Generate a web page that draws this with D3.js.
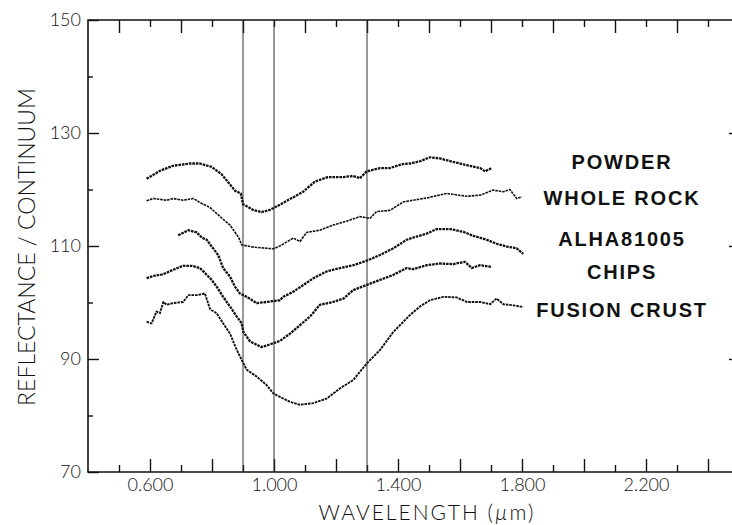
<!DOCTYPE html>
<html>
<head>
<meta charset="utf-8">
<script src="https://cdn.jsdelivr.net/npm/d3@7"></script>
<style>
  html, body { margin: 0; padding: 0; background: #fff; }
  svg { display: block; }
  .tick text { font-family: Lato, "Liberation Sans", sans-serif; font-weight: 300; fill: #111; }
</style>
</head>
<body>
<svg id="chart" width="732" height="525"></svg>
<script>
// spectra (wavelength um, reflectance / continuum)
const powderX = [0.589, 0.632, 0.674, 0.729, 0.761, 0.799, 0.831, 0.852, 0.874, 0.893, 0.900, 0.932, 0.960, 0.987, 1.019, 1.061, 1.094, 1.132, 1.174, 1.223, 1.255, 1.277, 1.299, 1.342, 1.374, 1.416, 1.439, 1.471, 1.503, 1.535, 1.577, 1.622, 1.665, 1.681, 1.702];
const powderY = [121.9, 123.3, 124.2, 124.6, 124.6, 124.0, 122.7, 121.3, 119.8, 119.3, 117.4, 116.4, 116.0, 116.4, 117.3, 118.6, 119.6, 121.4, 122.2, 122.2, 122.4, 122.0, 123.2, 123.8, 123.8, 124.5, 124.6, 125.0, 125.7, 125.5, 124.9, 124.3, 123.8, 123.2, 123.8];

const wholeX = [0.589, 0.611, 0.654, 0.675, 0.707, 0.740, 0.761, 0.794, 0.826, 0.858, 0.885, 0.896, 0.933, 0.976, 0.998, 1.019, 1.062, 1.084, 1.105, 1.148, 1.191, 1.234, 1.277, 1.310, 1.331, 1.374, 1.417, 1.449, 1.493, 1.557, 1.621, 1.665, 1.707, 1.740, 1.761, 1.783, 1.799];
const wholeY = [118.0, 118.4, 118.1, 118.4, 118.1, 118.4, 117.7, 116.8, 115.2, 113.7, 111.6, 110.2, 109.8, 109.6, 109.5, 110.0, 111.4, 110.8, 112.4, 112.8, 113.7, 114.4, 115.2, 114.9, 116.1, 116.3, 117.8, 118.1, 118.5, 119.3, 118.8, 119.0, 119.9, 119.6, 120.0, 118.4, 118.7];

const alhaX = [0.691, 0.724, 0.751, 0.767, 0.783, 0.799, 0.820, 0.836, 0.858, 0.874, 0.890, 0.912, 0.944, 0.976, 1.019, 1.030, 1.062, 1.095, 1.127, 1.170, 1.213, 1.256, 1.299, 1.342, 1.385, 1.428, 1.449, 1.493, 1.525, 1.568, 1.611, 1.643, 1.686, 1.718, 1.751, 1.783, 1.804];
const alhaY = [111.9, 112.8, 112.4, 111.5, 111.1, 109.9, 108.4, 106.1, 104.6, 102.8, 101.6, 101.0, 99.9, 100.1, 100.4, 101.0, 101.9, 103.1, 104.3, 105.5, 106.1, 106.6, 107.4, 108.4, 109.6, 111.1, 111.5, 112.2, 113.0, 113.0, 112.5, 111.8, 111.1, 110.4, 109.9, 109.6, 108.6];

const chipsX = [0.589, 0.611, 0.643, 0.675, 0.707, 0.735, 0.761, 0.783, 0.799, 0.815, 0.836, 0.858, 0.880, 0.896, 0.901, 0.923, 0.960, 0.993, 1.019, 1.052, 1.084, 1.116, 1.148, 1.191, 1.224, 1.256, 1.299, 1.342, 1.385, 1.428, 1.449, 1.493, 1.535, 1.578, 1.616, 1.638, 1.665, 1.702];
const chipsY = [104.3, 104.7, 105.0, 105.8, 106.5, 106.5, 106.1, 104.9, 104.0, 102.8, 101.0, 99.3, 97.5, 96.3, 94.8, 93.1, 92.1, 92.7, 93.2, 94.5, 96.0, 97.5, 99.6, 100.1, 100.7, 102.2, 103.1, 104.0, 104.9, 106.1, 105.9, 106.6, 106.9, 106.8, 107.2, 106.1, 106.6, 106.3];

const crustX = [0.589, 0.605, 0.621, 0.632, 0.643, 0.654, 0.675, 0.707, 0.724, 0.751, 0.777, 0.794, 0.815, 0.836, 0.858, 0.880, 0.896, 0.912, 0.944, 0.976, 0.998, 1.019, 1.052, 1.084, 1.127, 1.170, 1.213, 1.256, 1.299, 1.342, 1.385, 1.428, 1.439, 1.471, 1.503, 1.546, 1.589, 1.622, 1.665, 1.697, 1.718, 1.740, 1.772, 1.804];
const crustY = [96.6, 96.3, 98.4, 98.1, 100.1, 99.6, 99.9, 100.1, 101.3, 101.3, 101.6, 98.8, 98.1, 96.3, 94.5, 91.6, 89.8, 88.1, 86.9, 85.4, 83.9, 83.3, 82.4, 81.9, 82.2, 83.0, 84.8, 86.3, 89.2, 91.6, 94.8, 97.2, 97.8, 99.3, 100.4, 101.0, 100.9, 100.1, 100.1, 99.7, 100.7, 99.7, 99.5, 99.2];

const seriesNames = ["POWDER", "WHOLE ROCK", "ALHA81005", "CHIPS", "FUSION CRUST"];
const labelLevels = [124.9, 118.5, 111.2, 105.4, 98.7];

// band marker lines and ticks
const bandLines = [0.9, 1.0, 1.3];
const xLabelTicks = [0.6, 1.0, 1.4, 1.8, 2.2];
const xEvenTicks = [0.6, 0.8, 1.0, 1.2, 1.4, 1.6, 1.8, 2.0, 2.2, 2.4];
const xOddTicks = [0.5, 0.7, 0.9, 1.1, 1.3, 1.5, 1.7, 1.9, 2.1, 2.3];
const yLabelTicks = [70, 90, 110, 130, 150];
const yMinorTicks = [80, 100, 120, 140];

const svg = d3.select("#chart");

const x = d3.scaleLinear().domain([0.4, 2.5]).range([88, 739]);
const y = d3.scaleLinear().domain([70, 150]).range([472, 20]);

const [x0, x1] = x.range();
const [yb, yt] = y.range();

function axisLayer(axis, tx, ty) {
    const g = svg.append("g")
        .attr("transform", `translate(${tx},${ty})`)
        .call(axis);
    g.select(".domain").remove();
    g.selectAll(".tick line").attr("stroke", "#111").attr("stroke-width", 1.4);
    return g;
}

// bottom: long ticks on even tenths, short on odd
axisLayer(d3.axisBottom(x).tickValues(xEvenTicks).tickSize(-13).tickFormat(""), 0, yb);
axisLayer(d3.axisBottom(x).tickValues(xOddTicks).tickSize(-7).tickFormat(""), 0, yb);
axisLayer(d3.axisBottom(x).tickValues(xLabelTicks).tickSize(0).tickPadding(6)
    .tickFormat(d3.format(".3f")), 0, yb)
    .selectAll("text").style("font-size", "18px");

// top: long ticks on odd tenths
axisLayer(d3.axisTop(x).tickValues(xOddTicks).tickSize(-13).tickFormat(""), 0, yt);
axisLayer(d3.axisTop(x).tickValues(xEvenTicks).tickSize(-7).tickFormat(""), 0, yt);

// left
axisLayer(d3.axisLeft(y).tickValues(yLabelTicks).tickSize(-11).tickPadding(7), x0, 0)
    .selectAll("text").style("font-size", "18px");
axisLayer(d3.axisLeft(y).tickValues(yMinorTicks).tickSize(-5).tickFormat(""), x0, 0);

// right (frame edge lies just past the window)
axisLayer(d3.axisRight(y).tickValues([90, 110, 130]).tickSize(-10).tickFormat(""), x1, 0);

// frame
svg.append("path")
    .attr("d", `M${x1},${yt}H${x0}V${yb}H${x1}`)
    .attr("fill", "none")
    .attr("stroke", "#111")
    .attr("stroke-width", 1.6);

// vertical band lines
svg.append("g")
    .selectAll("line")
    .data(bandLines)
    .enter()
    .append("line")
    .attr("x1", d => x(d)).attr("x2", d => x(d))
    .attr("y1", yt).attr("y2", yb)
    .attr("stroke", "#333")
    .attr("stroke-width", 1);

// spectra
const spectra = [
    { xs: powderX, ys: powderY, w: 2.3 },
    { xs: wholeX, ys: wholeY, w: 1.6 },
    { xs: alhaX, ys: alhaY, w: 2.3 },
    { xs: chipsX, ys: chipsY, w: 2.3 },
    { xs: crustX, ys: crustY, w: 1.9 }
];

const line = d3.line()
    .x(d => x(d[0]))
    .y(d => y(d[1]));

svg.append("g")
    .selectAll("path")
    .data(spectra)
    .enter()
    .append("path")
    .attr("d", s => line(s.xs.map((v, i) => [v, s.ys[i]])))
    .attr("fill", "none")
    .attr("stroke", "#111")
    .attr("stroke-width", s => s.w)
    .attr("stroke-dasharray", "2.6,0.9")
    .attr("stroke-linejoin", "round");

// curve labels
svg.append("g")
    .selectAll("text")
    .data(seriesNames)
    .enter()
    .append("text")
    .attr("x", 622)
    .attr("y", (d, i) => y(labelLevels[i]))
    .attr("dy", "0.36em")
    .attr("text-anchor", "middle")
    .style("font-family", "'Liberation Sans', Arial, sans-serif")
    .style("font-weight", "bold")
    .style("font-size", "20px")
    .style("letter-spacing", "1.8px")
    .attr("fill", "#111")
    .text(d => d);

// axis titles
svg.append("text")
    .attr("transform", `translate(35,247) rotate(-90)`)
    .attr("text-anchor", "middle")
    .style("font-family", "Lato, 'Liberation Sans', sans-serif")
    .style("font-weight", "300")
    .style("font-size", "23px")
    .attr("fill", "#111")
    .text("REFLECTANCE / CONTINUUM");

const xt = svg.append("text")
    .attr("x", 427)
    .attr("y", 520)
    .attr("text-anchor", "middle")
    .style("font-family", "Lato, 'Liberation Sans', sans-serif")
    .style("font-weight", "300")
    .style("font-size", "21px")
    .style("letter-spacing", "2px")
    .attr("fill", "#111");
xt.append("tspan").text("WAVELENGTH  (");
xt.append("tspan").style("font-style", "italic").text("\u00b5");
xt.append("tspan").text("m)");
</script>
</body>
</html>
